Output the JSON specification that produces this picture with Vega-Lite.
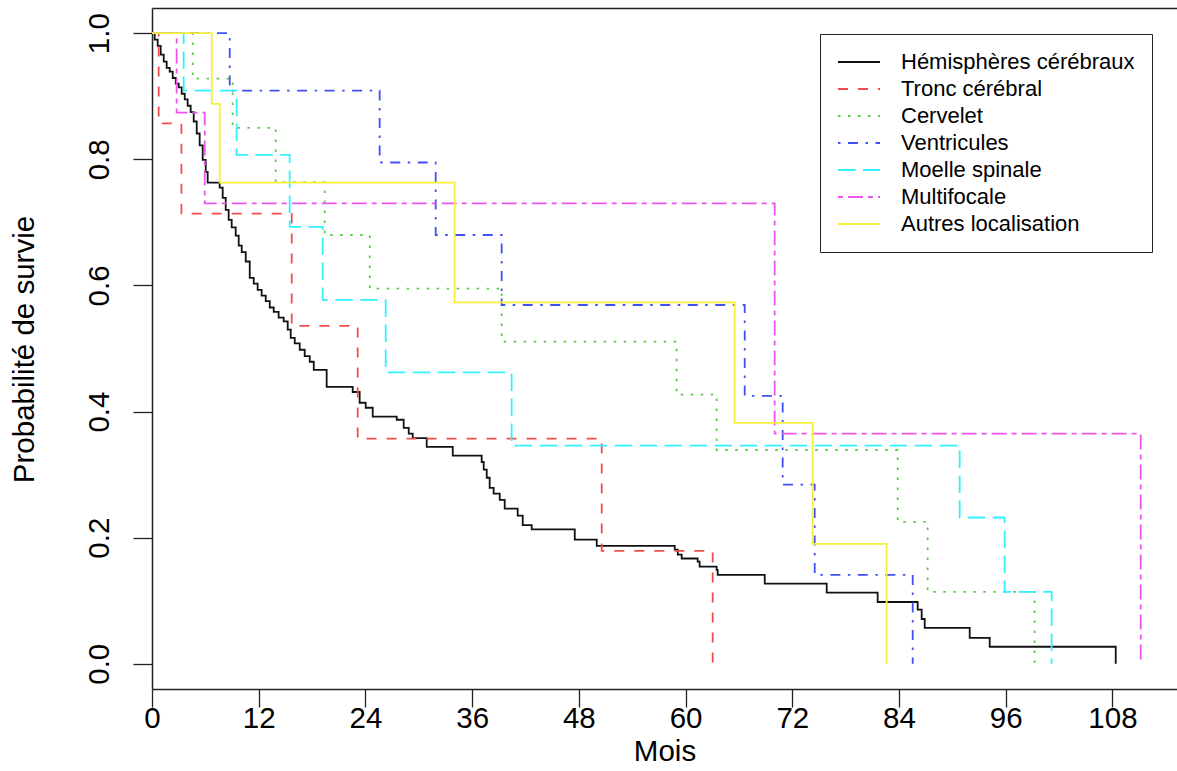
{
  "$schema": "https://vega.github.io/schema/vega-lite/v6.json",
  "width": 1025,
  "height": 681,
  "autosize": {"type": "none"},
  "padding": {"left": 152, "top": 8, "right": 0, "bottom": 82},
  "background": "white",
  "config": {"view": {"stroke": null}, "font": "Liberation Sans"},
  "data": {"values": [
    {"site": "Hémisphères cérébraux", "t": 0, "s": 1},
    {"site": "Hémisphères cérébraux", "t": 0.30, "s": 0.990},
    {"site": "Hémisphères cérébraux", "t": 0.64, "s": 0.980},
    {"site": "Hémisphères cérébraux", "t": 0.98, "s": 0.966},
    {"site": "Hémisphères cérébraux", "t": 1.32, "s": 0.955},
    {"site": "Hémisphères cérébraux", "t": 1.65, "s": 0.945},
    {"site": "Hémisphères cérébraux", "t": 1.99, "s": 0.939},
    {"site": "Hémisphères cérébraux", "t": 2.33, "s": 0.929},
    {"site": "Hémisphères cérébraux", "t": 2.67, "s": 0.920},
    {"site": "Hémisphères cérébraux", "t": 3.00, "s": 0.914},
    {"site": "Hémisphères cérébraux", "t": 3.34, "s": 0.904},
    {"site": "Hémisphères cérébraux", "t": 3.68, "s": 0.895},
    {"site": "Hémisphères cérébraux", "t": 4.01, "s": 0.885},
    {"site": "Hémisphères cérébraux", "t": 4.35, "s": 0.875},
    {"site": "Hémisphères cérébraux", "t": 4.69, "s": 0.860},
    {"site": "Hémisphères cérébraux", "t": 5.03, "s": 0.841},
    {"site": "Hémisphères cérébraux", "t": 5.36, "s": 0.822},
    {"site": "Hémisphères cérébraux", "t": 5.70, "s": 0.799},
    {"site": "Hémisphères cérébraux", "t": 6.04, "s": 0.780},
    {"site": "Hémisphères cérébraux", "t": 6.26, "s": 0.763},
    {"site": "Hémisphères cérébraux", "t": 7.61, "s": 0.755},
    {"site": "Hémisphères cérébraux", "t": 7.95, "s": 0.739},
    {"site": "Hémisphères cérébraux", "t": 8.29, "s": 0.720},
    {"site": "Hémisphères cérébraux", "t": 8.62, "s": 0.704},
    {"site": "Hémisphères cérébraux", "t": 8.96, "s": 0.692},
    {"site": "Hémisphères cérébraux", "t": 9.41, "s": 0.679},
    {"site": "Hémisphères cérébraux", "t": 9.75, "s": 0.663},
    {"site": "Hémisphères cérébraux", "t": 10.09, "s": 0.653},
    {"site": "Hémisphères cérébraux", "t": 10.54, "s": 0.638},
    {"site": "Hémisphères cérébraux", "t": 10.99, "s": 0.612},
    {"site": "Hémisphères cérébraux", "t": 11.44, "s": 0.603},
    {"site": "Hémisphères cérébraux", "t": 11.88, "s": 0.593},
    {"site": "Hémisphères cérébraux", "t": 12.33, "s": 0.584},
    {"site": "Hémisphères cérébraux", "t": 12.79, "s": 0.575},
    {"site": "Hémisphères cérébraux", "t": 13.24, "s": 0.565},
    {"site": "Hémisphères cérébraux", "t": 13.69, "s": 0.558},
    {"site": "Hémisphères cérébraux", "t": 14.24, "s": 0.549},
    {"site": "Hémisphères cérébraux", "t": 14.81, "s": 0.543},
    {"site": "Hémisphères cérébraux", "t": 15.26, "s": 0.530},
    {"site": "Hémisphères cérébraux", "t": 15.60, "s": 0.517},
    {"site": "Hémisphères cérébraux", "t": 16.05, "s": 0.508},
    {"site": "Hémisphères cérébraux", "t": 16.61, "s": 0.498},
    {"site": "Hémisphères cérébraux", "t": 17.17, "s": 0.488},
    {"site": "Hémisphères cérébraux", "t": 17.74, "s": 0.479},
    {"site": "Hémisphères cérébraux", "t": 18.19, "s": 0.466},
    {"site": "Hémisphères cérébraux", "t": 19.64, "s": 0.439},
    {"site": "Hémisphères cérébraux", "t": 22.57, "s": 0.431},
    {"site": "Hémisphères cérébraux", "t": 23.35, "s": 0.414},
    {"site": "Hémisphères cérébraux", "t": 24.03, "s": 0.406},
    {"site": "Hémisphères cérébraux", "t": 24.82, "s": 0.392},
    {"site": "Hémisphères cérébraux", "t": 27.52, "s": 0.387},
    {"site": "Hémisphères cérébraux", "t": 28.30, "s": 0.374},
    {"site": "Hémisphères cérébraux", "t": 28.87, "s": 0.365},
    {"site": "Hémisphères cérébraux", "t": 29.32, "s": 0.358},
    {"site": "Hémisphères cérébraux", "t": 30.89, "s": 0.344},
    {"site": "Hémisphères cérébraux", "t": 33.82, "s": 0.330},
    {"site": "Hémisphères cérébraux", "t": 37.07, "s": 0.320},
    {"site": "Hémisphères cérébraux", "t": 37.30, "s": 0.308},
    {"site": "Hémisphères cérébraux", "t": 37.64, "s": 0.295},
    {"site": "Hémisphères cérébraux", "t": 37.97, "s": 0.279},
    {"site": "Hémisphères cérébraux", "t": 38.42, "s": 0.270},
    {"site": "Hémisphères cérébraux", "t": 39.10, "s": 0.260},
    {"site": "Hémisphères cérébraux", "t": 39.66, "s": 0.246},
    {"site": "Hémisphères cérébraux", "t": 41.12, "s": 0.235},
    {"site": "Hémisphères cérébraux", "t": 41.69, "s": 0.220},
    {"site": "Hémisphères cérébraux", "t": 42.70, "s": 0.213},
    {"site": "Hémisphères cérébraux", "t": 47.54, "s": 0.197},
    {"site": "Hémisphères cérébraux", "t": 50.01, "s": 0.187},
    {"site": "Hémisphères cérébraux", "t": 58.78, "s": 0.181},
    {"site": "Hémisphères cérébraux", "t": 59.12, "s": 0.173},
    {"site": "Hémisphères cérébraux", "t": 59.56, "s": 0.167},
    {"site": "Hémisphères cérébraux", "t": 61.36, "s": 0.162},
    {"site": "Hémisphères cérébraux", "t": 61.58, "s": 0.154},
    {"site": "Hémisphères cérébraux", "t": 63.49, "s": 0.149},
    {"site": "Hémisphères cérébraux", "t": 63.61, "s": 0.141},
    {"site": "Hémisphères cérébraux", "t": 68.90, "s": 0.127},
    {"site": "Hémisphères cérébraux", "t": 75.87, "s": 0.113},
    {"site": "Hémisphères cérébraux", "t": 81.60, "s": 0.098},
    {"site": "Hémisphères cérébraux", "t": 86.10, "s": 0.086},
    {"site": "Hémisphères cérébraux", "t": 86.55, "s": 0.071},
    {"site": "Hémisphères cérébraux", "t": 86.89, "s": 0.057},
    {"site": "Hémisphères cérébraux", "t": 91.95, "s": 0.041},
    {"site": "Hémisphères cérébraux", "t": 94.20, "s": 0.027},
    {"site": "Hémisphères cérébraux", "t": 108.37, "s": 0},
    {"site": "Tronc cérébral", "t": 0, "s": 1},
    {"site": "Tronc cérébral", "t": 0.75, "s": 0.857},
    {"site": "Tronc cérébral", "t": 3.31, "s": 0.714},
    {"site": "Tronc cérébral", "t": 15.71, "s": 0.536},
    {"site": "Tronc cérébral", "t": 23.13, "s": 0.357},
    {"site": "Tronc cérébral", "t": 50.57, "s": 0.179},
    {"site": "Tronc cérébral", "t": 63.05, "s": 0},
    {"site": "Cervelet", "t": 0, "s": 1},
    {"site": "Cervelet", "t": 4.58, "s": 0.928},
    {"site": "Cervelet", "t": 9.07, "s": 0.850},
    {"site": "Cervelet", "t": 13.91, "s": 0.764},
    {"site": "Cervelet", "t": 19.42, "s": 0.680},
    {"site": "Cervelet", "t": 24.48, "s": 0.595},
    {"site": "Cervelet", "t": 39.32, "s": 0.511},
    {"site": "Cervelet", "t": 58.99, "s": 0.427},
    {"site": "Cervelet", "t": 63.49, "s": 0.339},
    {"site": "Cervelet", "t": 83.85, "s": 0.225},
    {"site": "Cervelet", "t": 87.22, "s": 0.114},
    {"site": "Cervelet", "t": 99.25, "s": 0},
    {"site": "Ventricules", "t": 0, "s": 1},
    {"site": "Ventricules", "t": 8.74, "s": 0.909},
    {"site": "Ventricules", "t": 25.60, "s": 0.795},
    {"site": "Ventricules", "t": 31.90, "s": 0.680},
    {"site": "Ventricules", "t": 39.32, "s": 0.569},
    {"site": "Ventricules", "t": 66.65, "s": 0.425},
    {"site": "Ventricules", "t": 70.92, "s": 0.284},
    {"site": "Ventricules", "t": 74.52, "s": 0.141},
    {"site": "Ventricules", "t": 85.54, "s": 0},
    {"site": "Moelle spinale", "t": 0, "s": 1},
    {"site": "Moelle spinale", "t": 3.56, "s": 0.909},
    {"site": "Moelle spinale", "t": 9.52, "s": 0.807},
    {"site": "Moelle spinale", "t": 15.48, "s": 0.693},
    {"site": "Moelle spinale", "t": 19.19, "s": 0.577},
    {"site": "Moelle spinale", "t": 26.28, "s": 0.462},
    {"site": "Moelle spinale", "t": 40.44, "s": 0.346},
    {"site": "Moelle spinale", "t": 90.82, "s": 0.232},
    {"site": "Moelle spinale", "t": 95.88, "s": 0.114},
    {"site": "Moelle spinale", "t": 101.16, "s": 0},
    {"site": "Multifocale", "t": 0, "s": 1},
    {"site": "Multifocale", "t": 2.77, "s": 0.874},
    {"site": "Multifocale", "t": 5.93, "s": 0.730},
    {"site": "Multifocale", "t": 70.02, "s": 0.365},
    {"site": "Multifocale", "t": 111.18, "s": 0},
    {"site": "Autres localisation", "t": 0, "s": 1},
    {"site": "Autres localisation", "t": 6.72, "s": 0.888},
    {"site": "Autres localisation", "t": 7.61, "s": 0.763},
    {"site": "Autres localisation", "t": 34.03, "s": 0.573},
    {"site": "Autres localisation", "t": 65.52, "s": 0.382},
    {"site": "Autres localisation", "t": 74.29, "s": 0.190},
    {"site": "Autres localisation", "t": 82.61, "s": 0}
  ]},
  "layer": [
    {
      "mark": {"type": "line", "interpolate": "step-after", "strokeWidth": 1.8},
      "encoding": {
        "x": {
          "field": "t", "type": "quantitative",
          "scale": {"domain": [0, 115.26], "nice": false, "zero": false},
          "axis": {
            "orient": "bottom",
            "values": [0, 12, 24, 36, 48, 60, 72, 84, 96, 108],
            "grid": false,
            "domainColor": "#222222", "domainWidth": 1.5,
            "tickColor": "#222222", "tickWidth": 1.3, "tickSize": 18,
            "labelFontSize": 29.5, "labelColor": "#000000",
            "labelBaseline": "alphabetic", "labelPadding": 20,
            "labelFlush": false, "labelOverlap": false,
            "title": "Mois", "titleFontSize": 29.5, "titleFontWeight": "normal",
            "titleColor": "#000000", "titleBaseline": "alphabetic", "titleY": 71
          }
        },
        "y": {
          "field": "s", "type": "quantitative",
          "scale": {"domain": [-0.04, 1.04], "nice": false, "zero": false},
          "axis": {
            "values": [0, 0.2, 0.4, 0.6, 0.8, 1.0],
            "format": ".1f",
            "grid": false,
            "domainColor": "#222222", "domainWidth": 1.5,
            "tickColor": "#222222", "tickWidth": 1.3, "tickSize": 19,
            "labelFontSize": 29.5, "labelColor": "#000000",
            "labelAngle": 270, "labelAlign": "center", "labelBaseline": "alphabetic",
            "labelPadding": 25, "labelFlush": false, "labelOverlap": false,
            "title": "Probabilité de survie", "titleFontSize": 29.5, "titleFontWeight": "normal",
            "titleColor": "#000000", "titleAngle": 270, "titleAlign": "center",
            "titleBaseline": "alphabetic", "titleX": -119, "titleY": 341
          }
        },
        "color": {
          "field": "site", "type": "nominal",
          "scale": {
            "domain": ["Hémisphères cérébraux", "Tronc cérébral", "Cervelet", "Ventricules", "Moelle spinale", "Multifocale", "Autres localisation"],
            "range": ["#111111", "#F24D4D", "#5DC94A", "#3F51F5", "#33F0FF", "#EE55EE", "#F5F03A"]
          },
          "legend": {
            "title": null, "orient": "none", "legendX": 668, "legendY": 26,
            "symbolType": "stroke", "symbolSize": 1764, "symbolStrokeWidth": 1.8,
            "clipHeight": 22, "rowPadding": 5, "padding": 17,
            "labelFontSize": 22, "labelOffset": 20, "labelLimit": 0, "labelColor": "#000000",
            "strokeColor": "#222222", "fillColor": "#FFFFFF"
          }
        },
        "strokeDash": {
          "field": "site", "type": "nominal",
          "scale": {
            "domain": ["Hémisphères cérébraux", "Tronc cérébral", "Cervelet", "Ventricules", "Moelle spinale", "Multifocale", "Autres localisation"],
            "range": [[1, 0], [10, 10], [2.5, 7.5], [2.5, 7.5, 10, 7.5], [17.5, 7.5], [5, 5, 15, 5], [1, 0]]
          },
          "legend": {
            "title": null, "orient": "none", "legendX": 668, "legendY": 26,
            "symbolType": "stroke", "symbolSize": 1764, "symbolStrokeWidth": 1.8,
            "clipHeight": 22, "rowPadding": 5, "padding": 17,
            "labelFontSize": 22, "labelOffset": 20, "labelLimit": 0, "labelColor": "#000000",
            "strokeColor": "#222222", "fillColor": "#FFFFFF"
          }
        }
      }
    },
    {
      "mark": {"type": "line", "opacity": 0},
      "encoding": {
        "x": {
          "field": "t", "type": "quantitative",
          "axis": {"orient": "top", "labels": false, "ticks": false, "grid": false, "title": null,
                   "domain": true, "domainColor": "#222222", "domainWidth": 1.5}
        },
        "y": {"field": "s", "type": "quantitative"},
        "detail": {"field": "site"}
      }
    }
  ],
  "resolve": {"axis": {"x": "independent"}}
}
